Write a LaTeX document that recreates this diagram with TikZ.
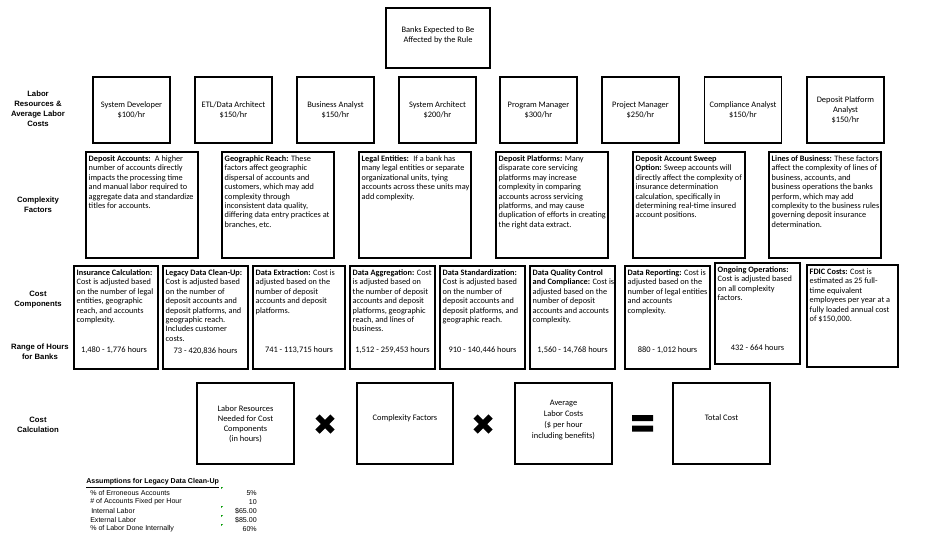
\documentclass[tikz,border=0pt]{standalone}
\usepackage{fontspec}
\setmainfont{Carlito}
\newfontfamily\arialfont{Liberation Sans}
\usetikzlibrary{positioning}

\begin{document}
\begin{tikzpicture}[x=0.75pt,y=-0.75pt,
  box/.style={draw,line width=0.8pt,inner sep=0pt},
  wh/.style 2 args={minimum width=#1*0.75pt,minimum height=#2*0.75pt},
  boxtext/.style={font=\fontsize{6.3}{7.5}\selectfont,align=center},
  dense/.style={anchor=north west,inner xsep=2.25pt,inner ysep=3pt,font=\fontsize{6.2}{7.05}\selectfont,align=left},
  hrs/.style={font=\fontsize{6.3}{7.5}\selectfont,inner sep=0pt},
  rowlab/.style={font=\arialfont\bfseries\fontsize{5.8}{7.5}\selectfont,align=center},
  tab/.style={font=\arialfont\fontsize{5.3}{6.5}\selectfont,inner sep=0pt},
  xmark/.style={line width=4.5pt}]
  \useasboundingbox (0,0) rectangle (927,539);

  \node[box,wh={104}{60}] (banks) at (438,38) {};
  \node[boxtext] (bankst) at (438,35) {Banks Expected to Be\\Affected by the Rule};

  \node[rowlab] (lrlab) at (38,109) {Labor\\Resources \&\\Average Labor\\Costs};
  \node[box,wh={77}{66},boxtext] (sysdev) at (131.5,110) {System Developer\\\$100/hr};
  \node[box,wh={77}{66},boxtext] (etl) at (233.5,110) {ETL/Data Architect\\\$150/hr};
  \node[box,wh={77}{66},boxtext] (busan) at (335.5,110) {Business Analyst\\\$150/hr};
  \node[box,wh={77}{66},boxtext] (sysarch) at (437.5,110) {System Architect\\\$200/hr};
  \node[box,wh={77}{66},boxtext] (progman) at (538.5,110) {Program Manager\\\$300/hr};
  \node[box,wh={77}{66},boxtext] (projman) at (640.5,110) {Project Manager\\\$250/hr};
  \node[box,wh={77}{66},boxtext] (compan) at (743,110) {Compliance Analyst\\\$150/hr};
  \node[box,wh={77}{66},boxtext] (depplat) at (845.5,110) {Deposit Platform\\Analyst\\\$150/hr};

  \node[rowlab] (cflab) at (38,205) {Complexity\\Factors};
  \node[box,wh={112}{106}] (depacc) at (142,205) {};
  \node[dense] (depacct) at (depacc.north west) {\textbf{Deposit Accounts:}~ A higher\\number of accounts directly\\impacts the processing time\\and manual labor required to\\aggregate data and standardize\\titles for accounts.};
  \node[box,wh={112}{106}] (georeach) at (278,205) {};
  \node[dense] (georeacht) at (georeach.north west) {\textbf{Geographic Reach:} These\\factors affect geographic\\dispersal of accounts and\\customers, which may add\\complexity through\\inconsistent data quality,\\differing data entry practices at\\branches, etc.};
  \node[box,wh={112}{106}] (legal) at (415,205) {};
  \node[dense] (legalt) at (legal.north west) {\textbf{Legal Entities:}~ If a bank has\\many legal entities or separate\\organizational units, tying\\accounts across these units may\\add complexity.};
  \node[box,wh={112}{106}] (platforms) at (552,205) {};
  \node[dense] (platformst) at (platforms.north west) {\textbf{Deposit Platforms:} Many\\disparate core servicing\\platforms may increase\\complexity in comparing\\accounts across servicing\\platforms, and may cause\\duplication of efforts in creating\\the right data extract.};
  \node[box,wh={112}{106}] (sweep) at (689,205) {};
  \node[dense] (sweept) at (sweep.north west) {\textbf{Deposit Account Sweep}\\\textbf{Option:} Sweep accounts will\\directly affect the complexity of\\insurance determination\\calculation, specifically in\\determining real-time insured\\account positions.};
  \node[box,wh={112}{106}] (lob) at (825,205) {};
  \node[dense] (lobt) at (lob.north west) {\textbf{Lines of Business:} These factors\\affect the complexity of lines of\\business, accounts, and\\business operations the banks\\perform, which may add\\complexity to the business rules\\governing deposit insurance\\determination.};

  \node[rowlab] (cclab) at (38,300) {Cost\\Components};
  \node[rowlab] (hrlab) at (40,352) {Range of Hours\\for Banks};
  \node[box,wh={84}{103}] (inscalc) at (116,317.5) {};
  \node[dense] (inscalct) at (inscalc.north west) {\textbf{Insurance Calculation:}\\Cost is adjusted based\\on the number of legal\\entities, geographic\\reach, and accounts\\complexity.};
  \node[hrs] (inscalch) at (114,350) {1,480 - 1,776 hours};
  \node[box,wh={85}{103}] (legacy) at (205.5,317.5) {};
  \node[dense] (legacyt) at (legacy.north west) {\textbf{Legacy Data Clean-Up:}\\Cost is adjusted based\\on the number of\\deposit accounts and\\deposit platforms, and\\geographic reach.\\Includes customer\\costs.};
  \node[hrs] (legacyh) at (205.5,351) {73 - 420,836 hours};
  \node[box,wh={92}{103}] (extract) at (299,317.5) {};
  \node[dense] (extractt) at (extract.north west) {\textbf{Data Extraction:} Cost is\\adjusted based on the\\number of deposit\\accounts and deposit\\platforms.};
  \node[hrs] (extracth) at (299,350) {741 - 113,715 hours};
  \node[box,wh={85}{103}] (aggreg) at (392.5,317.5) {};
  \node[dense] (aggregt) at (aggreg.north west) {\textbf{Data Aggregation:} Cost\\is adjusted based on\\the number of deposit\\accounts and deposit\\platforms, geographic\\reach, and lines of\\business.};
  \node[hrs] (aggregh) at (392.5,350) {1,512 - 259,453 hours};
  \node[box,wh={85}{103}] (standard) at (482.5,317.5) {};
  \node[dense] (standardt) at (standard.north west) {\textbf{Data Standardization:}\\Cost is adjusted based\\on the number of\\deposit accounts and\\deposit platforms, and\\geographic reach.};
  \node[hrs] (standardh) at (482.5,350) {910 - 140,446 hours};
  \node[box,wh={85}{103}] (quality) at (572.5,317.5) {};
  \node[dense] (qualityt) at (quality.north west) {\textbf{Data Quality Control}\\\textbf{and Compliance:} Cost is\\adjusted based on the\\number of deposit\\accounts and accounts\\complexity.};
  \node[hrs] (qualityh) at (572.5,350) {1,560 - 14,768 hours};
  \node[box,wh={85}{103}] (report) at (667.5,317.5) {};
  \node[dense] (reportt) at (report.north west) {\textbf{Data Reporting:} Cost is\\adjusted based on the\\number of legal entities\\and accounts\\complexity.};
  \node[hrs] (reporth) at (667.5,350) {880 - 1,012 hours};
  \node[box,wh={85}{101}] (ongoing) at (757.5,313.5) {};
  \node[dense] (ongoingt) at (ongoing.north west) {\textbf{Ongoing Operations:}\\Cost is adjusted based\\on all complexity\\factors.};
  \node[hrs] (ongoingh) at (757.5,348) {432 - 664 hours};
  \node[box,wh={91}{102}] (fdic) at (852.5,316) {};
  \node[dense] (fdict) at (fdic.north west) {\textbf{FDIC Costs:} Cost is\\estimated as 25 full-\\time equivalent\\employees per year at a\\fully loaded annual cost\\of \$150,000.};

  \node[rowlab] (calclab) at (38,425) {Cost\\Calculation};
  \node[box,wh={97}{81}] (labres) at (245.5,423.5) {};
  \node[boxtext] (labrest) at (245.5,424.5) {Labor Resources\\Needed for Cost\\Components\\(in hours)};
  \node[box,wh={96}{81}] (cfact) at (405,423.5) {};
  \node[boxtext] (cfactt) at (405,418) {Complexity Factors};
  \node[box,wh={97}{81}] (avgcost) at (563.5,423.5) {};
  \node[boxtext,font=\fontsize{6.3}{8.2}\selectfont] (avgcostt) at (563.5,420) {Average\\Labor Costs\\(\$ per hour\\including benefits)};
  \node[box,wh={97}{81}] (total) at (721.5,423.5) {};
  \node[boxtext] (totalt) at (721.5,418) {Total Cost};
  \coordinate (mul1) at (325,424);
  \coordinate (mul2) at (483,424);
  \coordinate (eq) at (642.5,423.5);
  \draw[xmark] (mul1) ++(-7.5,-7.5) -- ++(15,15) (mul1) ++(7.5,-7.5) -- ++(-15,15);
  \draw[xmark] (mul2) ++(-7.5,-7.5) -- ++(15,15) (mul2) ++(7.5,-7.5) -- ++(-15,15);
  \fill (eq) ++(-10.5,-8.5) rectangle ++(21,6) (eq) ++(-10.5,2) rectangle ++(21,6);

  \node[tab,anchor=west] (asmhead) at (86,483) {\underline{\textbf{Assumptions for Legacy Data Clean-Up}}};
  \node[tab,anchor=west] (err) at (90,493) {\% of Erroneous Accounts};
  \node[tab,anchor=west] (fixed) at (90,502) {\# of Accounts Fixed per Hour};
  \node[tab,anchor=west] (intlab) at (91,511) {Internal Labor};
  \node[tab,anchor=west] (extlab) at (90,520) {External Labor};
  \node[tab,anchor=west] (done) at (90,529) {\% of Labor Done Internally};
  \node[tab,anchor=east] (errv) at (257,493) {5\%};
  \node[tab,anchor=east] (fixedv) at (257,502) {10};
  \node[tab,anchor=east] (intlabv) at (257,511) {\$65.00};
  \node[tab,anchor=east] (extlabv) at (257,520) {\$85.00};
  \node[tab,anchor=east] (donev) at (257,529) {60\%};
  \fill[green!60!black] (221,487) -- ++(2,0) -- ++(-2,2) -- cycle;
  \fill[green!60!black] (221,506) -- ++(2,0) -- ++(-2,2) -- cycle;
  \fill[green!60!black] (221,515) -- ++(2,0) -- ++(-2,2) -- cycle;
  \fill[green!60!black] (221,524) -- ++(2,0) -- ++(-2,2) -- cycle;
\end{tikzpicture}
\end{document}
